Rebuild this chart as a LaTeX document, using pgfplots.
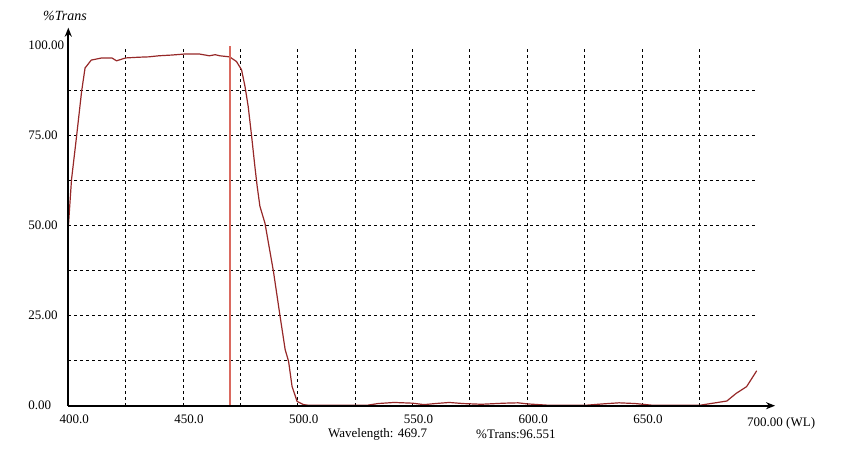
\documentclass[border=0pt]{standalone}
\usepackage{pgfplots}
\pgfplotsset{compat=1.18}
\usepackage{fontspec}
\setmainfont{Liberation Serif}
\usetikzlibrary{arrows.meta}
\definecolor{curve}{RGB}{150,40,40}
\definecolor{marker}{RGB}{218,105,95}
\begin{document}
\begin{tikzpicture}[x=1pt,y=1pt]
\useasboundingbox (0,0) rectangle (850,450);
\begin{axis}[
  at={(68.3pt,44.3pt)}, anchor=south west,
  scale only axis, width=688.4pt, height=360pt,
  xmin=400, xmax=700, ymin=0, ymax=100,
  axis line style={draw=none},
  clip=false,
  xtick={400,450,500,550,600,650},
  xticklabels={400.0,450.0,500.0,550.0,600.0,650.0},
  ytick={0,25,50,75,100},
  yticklabels={0.00,25.00,50.00,75.00,100.00},
  minor xtick={425,450,475,500,525,550,575,600,625,650,675},
  minor ytick={12.5,25,37.5,50,62.5,75,87.5},
  xminorgrids=true, yminorgrids=true,
  xmajorgrids=false, ymajorgrids=false,
  minor grid style={black, line width=0.9pt, dash pattern=on 3pt off 3pt},
  major tick length=0pt, minor tick length=0pt,
  tick label style={font=\fontsize{13}{13}\selectfont},
  every x tick label/.append style={anchor=north, xshift=6pt, yshift=-5.5pt},
  every y tick label/.append style={anchor=west, xshift=-43.5pt},
]
\addplot[color=curve, line width=1.2pt] coordinates {
(400,49.5) (401.4,62.8) (403.6,74.8) (405.8,87.3) (407.3,93.8) (410,96.0)
(414.6,96.6) (419,96.6) (421,95.8) (423,96.2) (425,96.6) (430.7,96.8) (435,96.9)
(439.5,97.2) (445,97.4) (451,97.7) (457,97.7) (461.5,97.2) (464,97.5) (466,97.2)
(470.3,96.9) (473.3,95.6) (475.5,93.3) (477,88.7) (478.4,83.1) (479.9,74.8)
(481.3,66.5) (482.3,61) (483.5,55.4) (485.7,50.7) (489.4,37.3) (492.3,24.8)
(494.5,15.6) (496,12.3) (497.5,5.4) (499.7,1.2) (502.5,0.3) (505,0.1)
(530,0.1) (535,0.6) (542,0.9) (550,0.7) (555,0.3) (560,0.6) (566,0.9)
(572,0.6) (580,0.4) (590,0.7) (596,0.8) (600,0.5) (610,0.1) (625,0.1)
(633,0.5) (640,0.8) (647,0.6) (655,0.1) (675,0.1) (681,0.7) (687,1.3)
(691,3.4) (695.6,5.3) (700,9.7)
};
\addplot[color=marker, line width=1.8pt] coordinates {(470.3,0) (470.3,100)};
\draw[black, line width=2pt, -{Stealth[length=9pt,width=7pt]}] (axis cs:400,0) -- (axis cs:708,0);
\draw[black, line width=2pt, -{Stealth[length=9pt,width=7pt]}] (axis cs:400,0) -- (axis cs:400,105);
\end{axis}
\node[font=\itshape\fontsize{14}{14}\selectfont] at (65,434) {\%Trans};
\node[anchor=west, font=\fontsize{13}{13}\selectfont, inner sep=0pt] at (747,27) {700.00 (WL)};
\node[anchor=west, font=\fontsize{13}{13}\selectfont, inner sep=0pt] at (328,16) {Wavelength: 469.7};
\node[anchor=west, font=\fontsize{13}{13}\selectfont, inner sep=0pt] at (476,16) {\%Trans:96.551};
\end{tikzpicture}
\end{document}
